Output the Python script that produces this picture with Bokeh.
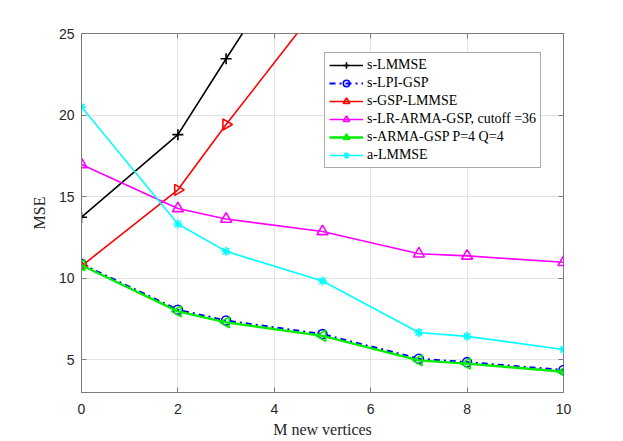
import numpy as np
from bokeh.plotting import figure
from bokeh.models import LinearAxis, Legend, FixedTicker, Range1d
from bokeh.embed import file_html
from bokeh.resources import INLINE

# ---- data ----
x_all = [0, 2, 3, 5, 7, 8, 10]
x_short = [0, 2, 3, 5]
s_lmmse = [13.74, 18.8, 23.45, 32.6]
s_gsp_lmmse = [10.75, 15.42, 19.42, 27.0]
s_lpi_gsp = [10.88, 8.07, 7.41, 6.58, 5.07, 4.86, 4.38]
s_lr_arma = [16.97, 14.28, 13.63, 12.87, 11.5, 11.37, 10.98]
s_arma = [10.8, 7.97, 7.3, 6.47, 4.97, 4.77, 4.27]
a_lmmse = [20.5, 13.33, 11.65, 9.83, 6.68, 6.44, 5.64]
x_ticks = [0, 2, 4, 6, 8, 10]
y_ticks = [5, 10, 15, 20, 25]

TICK_FONT = "Liberation Sans"
SERIF = "Liberation Serif"
AX_COLOR = "#7a7a7a"
TXT_COLOR = "#262626"

p = figure(frame_width=482, frame_height=359, output_backend="svg",
           toolbar_location=None, x_range=Range1d(0, 10), y_range=Range1d(3, 25),
           min_border_left=81, min_border_top=33, min_border_right=50,
           min_border_bottom=10)
p.background_fill_color = "white"
p.border_fill_color = "white"
p.outline_line_color = AX_COLOR
p.outline_line_width = 1

for ax in (p.xaxis[0], p.yaxis[0]):
    ax.axis_line_color = AX_COLOR
    ax.major_tick_line_color = AX_COLOR
    ax.major_tick_in = 5
    ax.major_tick_out = 0
    ax.minor_tick_line_color = None
    ax.major_label_text_font = TICK_FONT
    ax.major_label_text_font_size = "14px"
    ax.major_label_text_color = TXT_COLOR
    ax.axis_label_text_font = SERIF
    ax.axis_label_text_font_size = "16px"
    ax.axis_label_text_font_style = "normal"
    ax.axis_label_text_color = TXT_COLOR

p.xaxis[0].ticker = FixedTicker(ticks=x_ticks)
p.yaxis[0].ticker = FixedTicker(ticks=y_ticks)
p.xaxis[0].axis_label = "M new vertices"
p.yaxis[0].axis_label = "MSE"
p.xaxis[0].major_label_standoff = 11
p.xaxis[0].axis_label_standoff = 4
p.yaxis[0].major_label_standoff = 7
p.yaxis[0].axis_label_standoff = 8

# mirrored ticks on top/right
for loc, tk in (("right", y_ticks), ("above", x_ticks)):
    ax = LinearAxis(ticker=FixedTicker(ticks=tk),
                    major_label_overrides={t: "" for t in tk})
    ax.axis_line_color = None
    ax.major_tick_line_color = AX_COLOR
    ax.major_tick_in = 5
    ax.major_tick_out = 0
    ax.minor_tick_line_color = None
    ax.major_label_standoff = 0
    ax.major_label_text_font_size = "1px"
    p.add_layout(ax, loc)

p.xgrid.ticker = FixedTicker(ticks=x_ticks)
p.ygrid.ticker = FixedTicker(ticks=y_ticks)
p.grid.grid_line_color = "#e3e3e3"
p.grid.grid_line_width = 1

items = []

def series(xs, ys, color, label, marker, size, lw=1.6, dash="solid", angle=0.0):
    r1 = p.line(xs, ys, line_color=color, line_width=lw, line_dash=dash)
    r2 = p.scatter(x=xs, y=ys, marker=marker, size=size, line_color=color,
                   fill_color=None, line_width=1.6, angle=[angle] * len(xs))
    items.append((label, [r1, r2]))

series(x_short, s_lmmse, "black", "s-LMMSE", "cross", 11)
series(x_all, s_lpi_gsp, "blue", "s-LPI-GSP", "circle", 9, lw=2, dash="dashdot")
series(x_short, s_gsp_lmmse, "red", "s-GSP-LMMSE", "triangle", 11, angle=-np.pi / 2)
series(x_all, s_lr_arma, "magenta", "s-LR-ARMA-GSP, cutoff =36", "triangle", 11)
series(x_all, s_arma, "#00ee00", "s-ARMA-GSP P=4 Q=4", "triangle", 11, lw=2.4, angle=np.pi / 2)
series(x_all, a_lmmse, "cyan", "a-LMMSE", "asterisk", 9)

legend = Legend(items=items, location=(243, 224))
legend.label_text_font = SERIF
legend.label_text_font_size = "14px"
legend.label_text_color = "black"
legend.glyph_width = 34
legend.glyph_height = 16
legend.label_height = 16
legend.spacing = 2
legend.padding = 4
legend.margin = 0
legend.label_standoff = 4
legend.border_line_color = "#555555"
legend.border_line_width = 1
legend.background_fill_color = "white"
legend.background_fill_alpha = 1
p.add_layout(legend, "center")

open("out.html", "w").write(file_html(p, INLINE))
